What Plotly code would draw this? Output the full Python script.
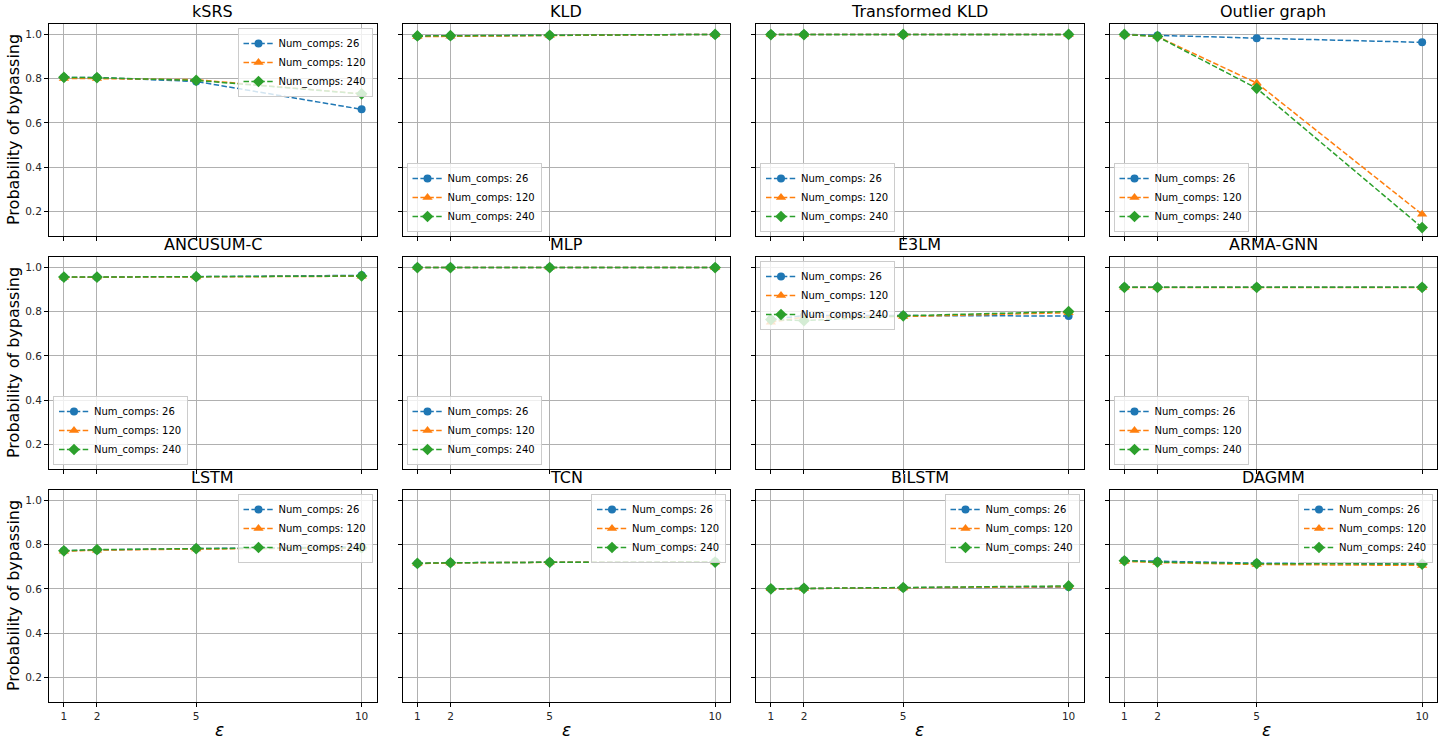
# epsilon sweep: probability of bypassing each detector, 3 settings of num_comps
import plotly.graph_objects as go
from plotly.subplots import make_subplots

eps = [1, 2, 5, 10]
num_comps = [26, 120, 240]
methods = ["kSRS", "KLD", "Transformed KLD", "Outlier graph",
           "ANCUSUM-C", "MLP", "E3LM", "ARMA-GNN",
           "LSTM", "TCN", "BiLSTM", "DAGMM"]

# one list per num_comps value (26, 120, 240)
ksrs = [[0.805, 0.805, 0.787, 0.661], [0.800, 0.800, 0.795, 0.731], [0.806, 0.804, 0.792, 0.731]]
kld = [[0.992, 0.993, 0.995, 1.000], [0.990, 0.992, 0.995, 1.000], [0.993, 0.994, 0.996, 1.000]]
tkld = [[0.999, 0.999, 1.000, 1.000], [0.999, 0.999, 1.000, 1.000], [0.999, 0.999, 1.000, 1.000]]
outlier = [[1.000, 0.995, 0.983, 0.964], [1.000, 0.990, 0.780, 0.186], [1.000, 0.990, 0.756, 0.126]]
ancusum = [[0.955, 0.955, 0.958, 0.964], [0.955, 0.956, 0.957, 0.960], [0.956, 0.956, 0.958, 0.961]]
mlp = [[0.999, 0.999, 0.999, 0.999], [0.999, 0.999, 0.999, 0.999], [0.999, 0.999, 0.999, 0.999]]
e3lm = [[0.765, 0.782, 0.782, 0.780], [0.752, 0.775, 0.778, 0.795], [0.764, 0.759, 0.781, 0.800]]
arma = [[0.910, 0.910, 0.910, 0.910], [0.909, 0.909, 0.910, 0.909], [0.910, 0.910, 0.910, 0.910]]
lstm = [[0.772, 0.776, 0.782, 0.790], [0.770, 0.775, 0.780, 0.784], [0.772, 0.777, 0.782, 0.786]]
tcn = [[0.715, 0.718, 0.720, 0.722], [0.714, 0.717, 0.720, 0.721], [0.715, 0.718, 0.720, 0.721]]
bilstm = [[0.600, 0.602, 0.605, 0.608], [0.600, 0.601, 0.604, 0.610], [0.600, 0.602, 0.606, 0.613]]
dagmm = [[0.728, 0.725, 0.716, 0.712], [0.724, 0.719, 0.710, 0.706], [0.727, 0.721, 0.714, 0.712]]

all_data = [ksrs, kld, tkld, outlier, ancusum, mlp, e3lm, arma, lstm, tcn, bilstm, dagmm]
# where matplotlib put each legend
legend_loc = ["ur", "ll", "ll", "ll", "ll", "ll", "ul", "ll", "ur", "ur", "ur", "ur"]

colors = ["#1f77b4", "#ff7f0e", "#2ca02c"]
symbols = ["circle", "triangle-up", "diamond"]
msizes = [8, 9, 9]

W, H = 1443, 745
fig = make_subplots(rows=3, cols=4, subplot_titles=methods,
                    horizontal_spacing=26 / 1388, vertical_spacing=21 / 678)

for k, data in enumerate(all_data):
    r, c = k // 4 + 1, k % 4 + 1
    lg = "legend" if k == 0 else "legend" + str(k + 1)
    for j in range(3):
        fig.add_trace(go.Scatter(
            x=eps, y=data[j], mode="lines+markers",
            name="Num_comps: " + str(num_comps[j]),
            line=dict(color=colors[j], width=1.5, dash="5.5px,2.4px"),
            marker=dict(color=colors[j], symbol=symbols[j], size=msizes[j]),
            legend=lg), row=r, col=c)

fig.update_xaxes(range=[0.55, 10.45], tickvals=eps, showticklabels=False,
                 showgrid=True, gridcolor="#b0b0b0", gridwidth=0.8, zeroline=False,
                 showline=True, mirror=True, linecolor="black", linewidth=1,
                 ticks="outside", ticklen=4, tickcolor="black",
                 tickfont=dict(size=10.5, color="#262626"))
fig.update_xaxes(showticklabels=True, row=3)
fig.update_yaxes(range=[0.088, 1.047], tickvals=[0.2, 0.4, 0.6, 0.8, 1.0],
                 tickformat=".1f", showticklabels=False,
                 showgrid=True, gridcolor="#b0b0b0", gridwidth=0.8, zeroline=False,
                 showline=True, mirror=True, linecolor="black", linewidth=1,
                 ticks="outside", ticklen=4, tickcolor="black",
                 tickfont=dict(size=10.5, color="#262626"))
fig.update_yaxes(showticklabels=True, col=1)

# legends, one per subplot, placed inside the frame like matplotlib's
legends = {}
for k in range(12):
    ax_n = "" if k == 0 else str(k + 1)
    xd = fig.layout["xaxis" + ax_n].domain
    yd = fig.layout["yaxis" + ax_n].domain
    dx, dy = 4 / 1388, 4 / 678
    loc = legend_loc[k]
    if loc == "ur":
        pos = dict(x=xd[1] - dx, y=yd[1] - dy, xanchor="right", yanchor="top")
    elif loc == "ul":
        pos = dict(x=xd[0] + dx, y=yd[1] - dy, xanchor="left", yanchor="top")
    else:
        pos = dict(x=xd[0] + dx, y=yd[0] + dy, xanchor="left", yanchor="bottom")
    legends["legend" if k == 0 else "legend" + str(k + 1)] = dict(
        **pos, bgcolor="rgba(255,255,255,0.8)", bordercolor="#cccccc", borderwidth=1,
        font=dict(size=10, color="black", family="DejaVu Sans"),
        itemwidth=30, tracegroupgap=0)

fig.update_layout(**legends)

fig.update_annotations(font=dict(size=16, color="black", family="DejaVu Sans"), yshift=1)

# axis labels
for c in range(4):
    xd = fig.layout["xaxis" + ("" if c == 0 else str(9 + c))].domain
    fig.add_annotation(text="<i>ε</i>", xref="paper", yref="paper",
                       x=(xd[0] + xd[1]) / 2, y=0, yshift=-28, yanchor="middle",
                       showarrow=False, font=dict(size=17, color="black", family="DejaVu Sans"))
for r in range(3):
    yd = fig.layout["yaxis" + ("" if r == 0 else str(4 * r + 1))].domain
    fig.add_annotation(text="Probability of bypassing", xref="paper", yref="paper",
                       x=0, xshift=-36, y=(yd[0] + yd[1]) / 2, textangle=-90,
                       xanchor="center", yanchor="middle", showarrow=False,
                       font=dict(size=16, color="black", family="DejaVu Sans"))

fig.update_layout(width=W, height=H, showlegend=True,
                  margin=dict(l=49, r=6, t=24, b=43),
                  paper_bgcolor="white", plot_bgcolor="white",
                  font=dict(family="DejaVu Sans", color="black"))
fig.write_html("out.html", config={"displayModeBar": False},
               post_script="document.body.style.margin='0px';document.body.style.overflow='hidden';")
